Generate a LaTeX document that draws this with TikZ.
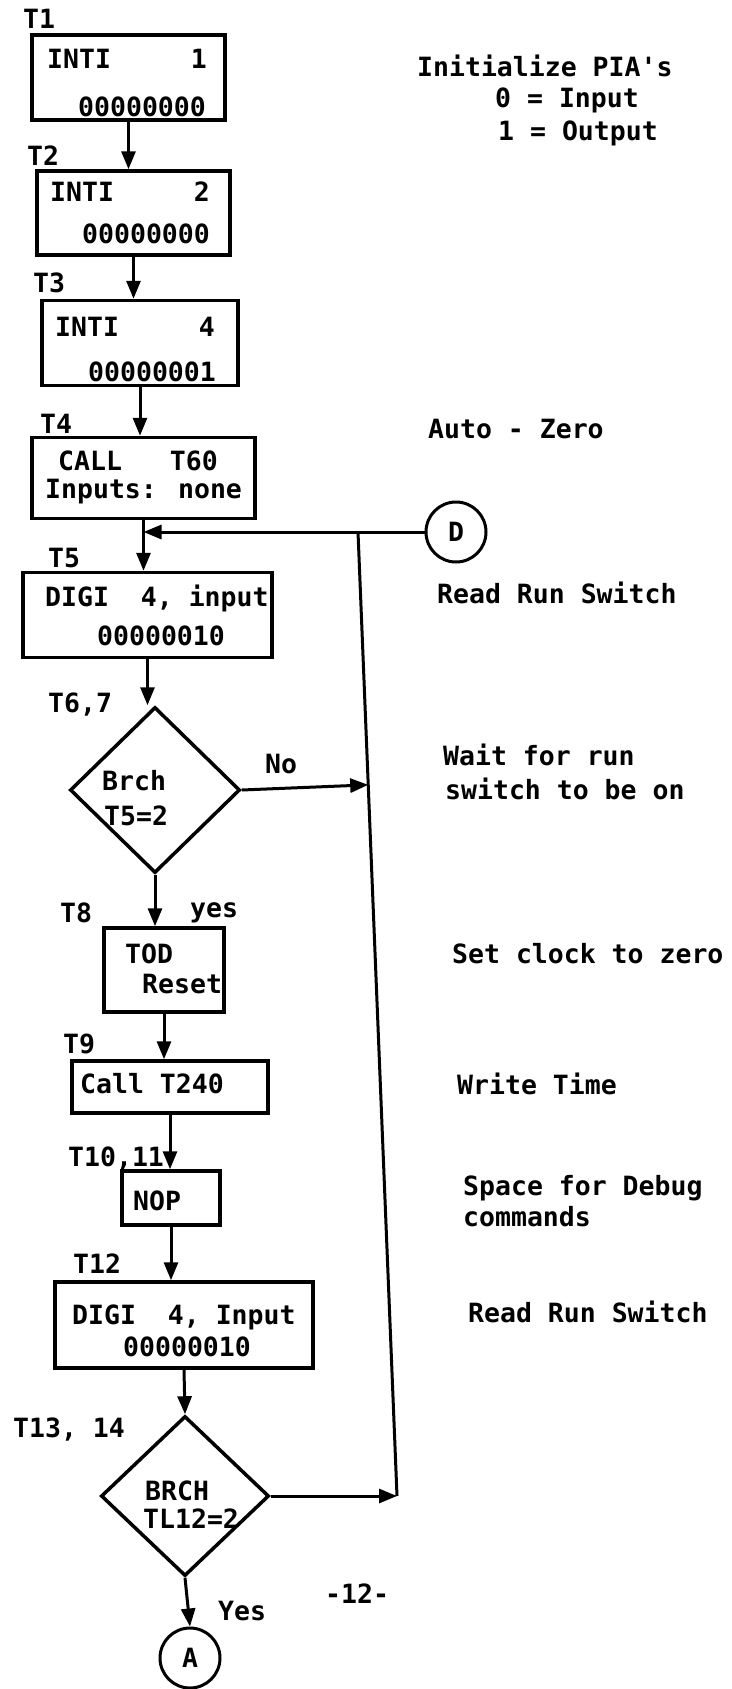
\documentclass[tikz,border=0pt]{standalone}
\usepackage{fontspec}
\newfontfamily\tw{DejaVu Sans Mono}
\usetikzlibrary{shapes.geometric,arrows.meta,calc}
\tikzset{
  box/.style={draw, line width=3.5pt, inner sep=0pt},
  dia/.style={draw, diamond, line width=3.5pt, inner sep=0pt},
  circ/.style={draw, circle, line width=3pt, minimum size=60pt, inner sep=0pt, font=\tw\bfseries\fontsize{26.5}{30}\selectfont},
  txt/.style={font=\tw\bfseries\fontsize{26.5}{30}\selectfont, inner sep=0pt, anchor=base west},
  arr/.style={line width=3pt, -{Triangle[length=18pt,width=14pt]}},
  ln/.style={line width=3pt}
}
\begin{document}
\begin{tikzpicture}[x=1pt,y=-1pt]
\useasboundingbox[fill=white] (0,0) rectangle (731,1689);

% boxes
\node[box, minimum width=193pt, minimum height=85pt] (b1) at (128.5,77.5) {};
\node[box, minimum width=193pt, minimum height=84pt] (b2) at (133.5,213) {};
\node[box, minimum width=196pt, minimum height=85pt] (b3) at (140,343) {};
\node[box, minimum width=223pt, minimum height=81pt] (b4) at (143.5,478) {};
\node[box, minimum width=249pt, minimum height=85pt] (b5) at (147.5,615) {};
\node[dia, minimum width=170pt, minimum height=166pt] (d1) at (155,790) {};
\node[box, minimum width=120pt, minimum height=84pt] (b6) at (164,970) {};
\node[box, minimum width=196pt, minimum height=52pt] (b7) at (170,1087) {};
\node[box, minimum width=98pt, minimum height=54pt] (b8) at (171,1198) {};
\node[box, minimum width=258pt, minimum height=86pt] (b9) at (184,1325) {};
\node[dia, minimum width=168pt, minimum height=160pt] (d2) at (185,1496) {};
\node[circ] (A) at (190,1658) {A};
\node[circ] (D) at (456,532) {D};

% free ends of the return line
\coordinate (vtop) at (358,532);
\coordinate (vbot) at (397,1496);

% connectors
\draw[arr] (b1.south) -- (b1.south |- b2.north);
\draw[arr] (b2.south) -- (b2.south |- b3.north);
\draw[arr] (b3.south) -- (b3.south |- b4.north);
\draw[arr] (b4.south) -- (b4.south |- b5.north);
\draw[arr] (D.west) -- (D.west -| b4.south);
\draw[arr] (b5.south) -- (b5.south |- d1.north);
\draw[arr] (d1.south) -- (d1.south |- b6.north);
\draw[arr] (b6.south) -- (b6.south |- b7.north);
\draw[arr] (b7.south) -- (b7.south |- b8.north);
\draw[arr] (b8.south) -- (b8.south |- b9.north);
\draw[arr] (b9.south) -- (d2.north);
\draw[arr] (d2.south) -- (A.north);
\draw[ln] (vtop) -- (vbot);
\draw[arr] (d1.east) -- ($(vtop)!(d1.east)!(vbot)$);
\draw[arr] (d2.east) -- (vbot);

% texts in and around the flow
\node[txt] (t1) at (23,28) {T1};
\node[txt] (b1a) at (47,68) {INTI~~~~~1};
\node[txt] (b1b) at (78,116) {00000000};
\node[txt] (t2) at (27,165) {T2};
\node[txt] (b2a) at (50,201) {INTI~~~~~2};
\node[txt] (b2b) at (82,243) {00000000};
\node[txt] (t3) at (33,292) {T3};
\node[txt] (b3a) at (55,336) {INTI~~~~~4};
\node[txt] (b3b) at (88,381) {00000001};
\node[txt] (t4) at (40,433) {T4};
\node[txt] (b4a) at (58,470) {CALL~~~T60};
\node[txt] (b4b) at (45,498) {Inputs: none};
\node[txt] (t5) at (48,567) {T5};
\node[txt] (b5a) at (45,606) {DIGI~~4, input};
\node[txt] (b5b) at (97,645) {00000010};
\node[txt] (t67) at (48,712) {T6,7};
\node[txt] (d1a) at (102,790) {Brch};
\node[txt] (d1b) at (104,825) {T5=2};
\node[txt] (no) at (265,773) {No};
\node[txt] (t8) at (60,922) {T8};
\node[txt] (yes1) at (190,917) {yes};
\node[txt] (b6a) at (125,963) {TOD};
\node[txt] (b6b) at (142,993) {Reset};
\node[txt] (t9) at (63,1053) {T9};
\node[txt] (b7a) at (80,1093) {Call T240};
\node[txt] (t1011) at (68,1166) {T10,11};
\node[txt] (b8a) at (133,1210) {NOP};
\node[txt] (t12) at (73,1273) {T12};
\node[txt] (b9a) at (72,1324) {DIGI~~4, Input};
\node[txt] (b9b) at (123,1356) {00000010};
\node[txt] (t1314) at (13,1437) {T13, 14};
\node[txt] (d2a) at (145,1500) {BRCH};
\node[txt] (d2b) at (143,1528) {TL12=2};
\node[txt] (yes2) at (218,1620) {Yes};
\node[txt] (page) at (325,1603) {-12-};

% comments on the right
\node[txt] (c1) at (417,76) {Initialize PIA\textquotesingle s};
\node[txt] (c2) at (495,107) {0 = Input};
\node[txt] (c3) at (498,140) {1 = Output};
\node[txt] (c4) at (428,438) {Auto - Zero};
\node[txt] (c5) at (437,603) {Read Run Switch};
\node[txt] (c6) at (443,765) {Wait for run};
\node[txt] (c7) at (445,799) {switch to be on};
\node[txt] (c8) at (452,963) {Set clock to zero};
\node[txt] (c9) at (457,1094) {Write Time};
\node[txt] (c10) at (463,1195) {Space for Debug};
\node[txt] (c11) at (463,1226) {commands};
\node[txt] (c12) at (468,1322) {Read Run Switch};
\end{tikzpicture}
\end{document}
